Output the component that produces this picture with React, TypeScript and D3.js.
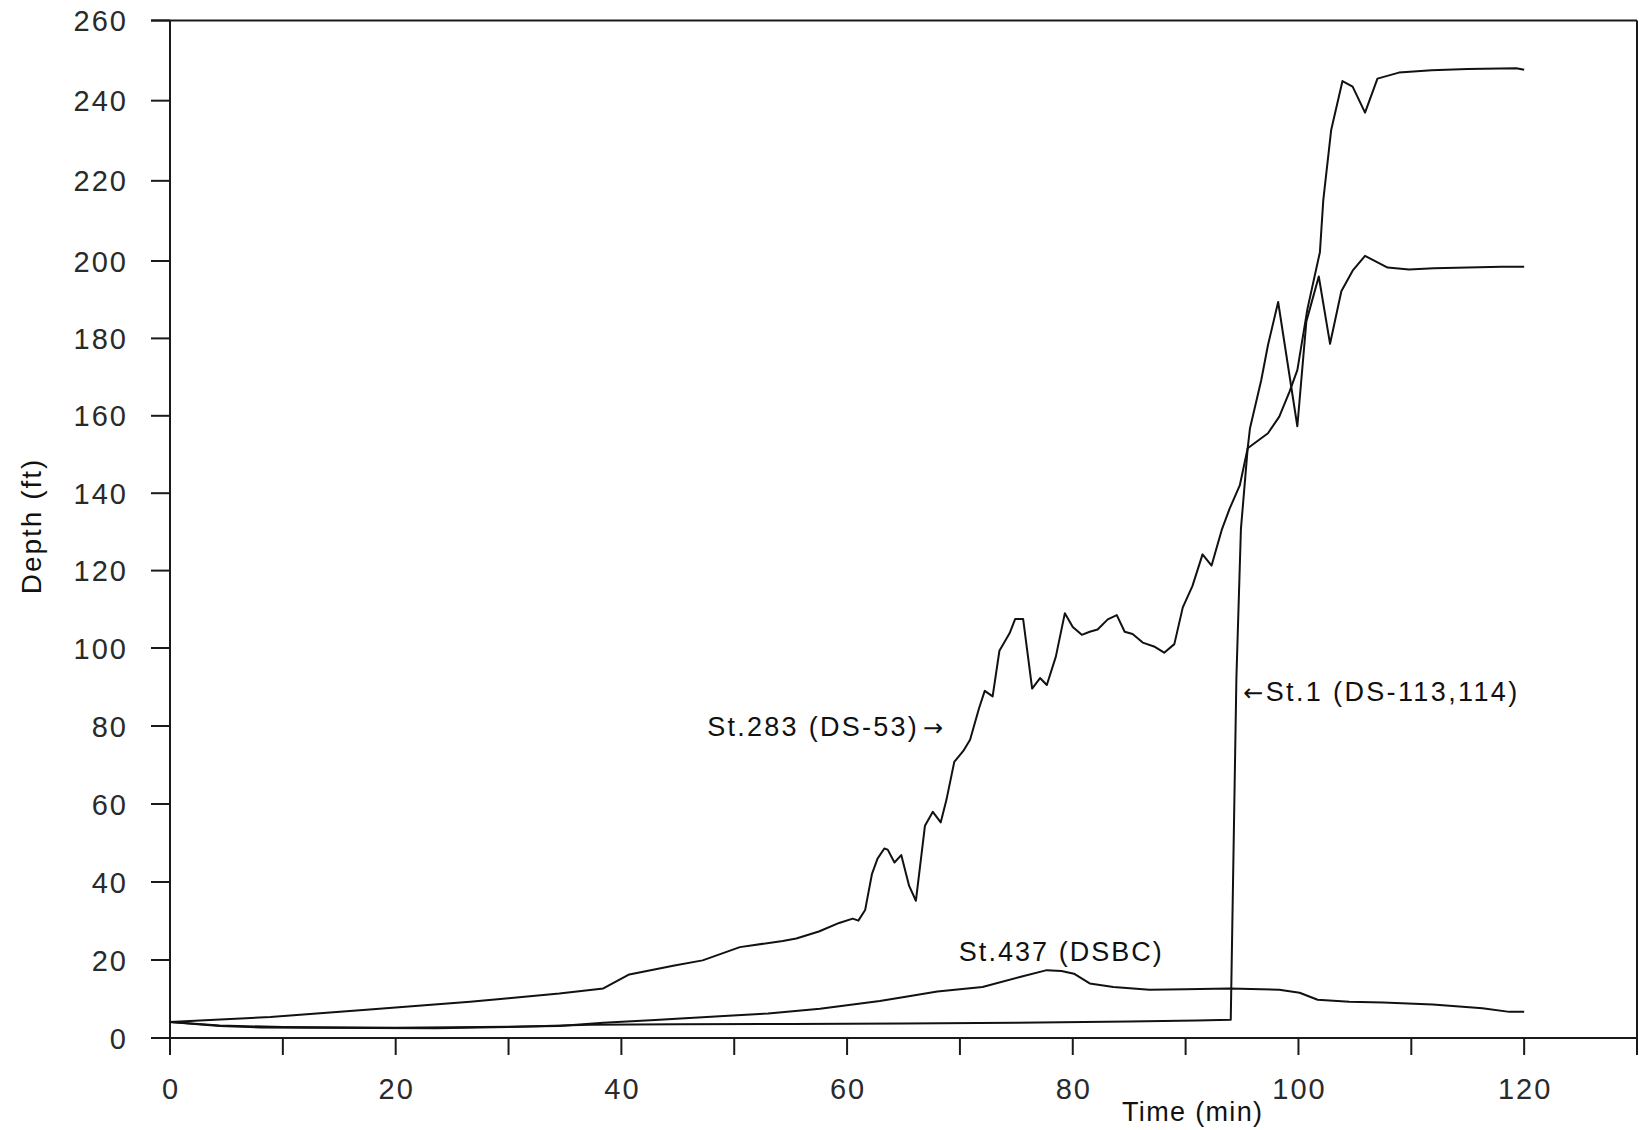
import React from "react";
import * as d3 from "d3";

// ---- data (time in min, depth in ft) ----
const st283: [number, number][] = [
  [0, 4.1], [4, 4.7], [8.9, 5.4], [13, 6.3], [17.7, 7.3], [22, 8.3], [26.6, 9.3], [30, 10.2],
  [34.5, 11.4], [38.4, 12.7], [40.7, 16.3], [44.7, 18.6], [47.2, 19.9], [50.5, 23.3], [54.3, 24.9],
  [55.5, 25.5], [57.5, 27.3], [59.3, 29.5], [60.5, 30.6], [61, 30.1], [61.6, 32.8], [62.2, 42],
  [62.7, 46], [63.3, 48.6], [63.6, 48.3], [64.2, 45], [64.8, 46.9], [65.5, 39], [66.1, 35.2],
  [66.9, 54.4], [67.6, 58], [68.3, 55.3], [68.8, 61], [69.5, 70.8], [70.3, 73.6], [70.9, 76.5],
  [71.7, 84.6], [72.2, 89], [72.9, 87.6], [73.5, 99.3], [74.4, 103.8], [74.9, 107.5], [75.6, 107.5],
  [76.4, 89.6], [77.1, 92.3], [77.7, 90.5], [78.5, 97.8], [79.3, 109], [80, 105.4], [80.8, 103.4],
  [81.5, 104.2], [82.2, 104.8], [83.1, 107.4], [83.9, 108.5], [84.6, 104.2], [85.3, 103.6],
  [86.2, 101.4], [87.2, 100.4], [88.1, 98.8], [89, 101], [89.75, 110.5], [90.6, 116], [91.5, 124.2],
  [92.3, 121.3], [93.2, 130.5], [93.9, 136], [94.8, 142], [95.5, 151.6], [95.7, 156.7], [96.7, 169.2],
  [97.3, 178.3], [98.2, 189.4], [99.9, 157.3], [100.7, 184.4], [101.1, 188.6], [101.8, 196],
  [102.8, 178.6], [103.8, 192.2], [104.8, 197.5], [105.9, 201.3], [107.9, 198.3], [109.8, 197.8],
  [112, 198.1], [115, 198.3], [118, 198.5], [120, 198.5],
];

const st1: [number, number][] = [
  [0, 4.1], [4.4, 3.1], [8, 2.7], [11.8, 2.6], [23.6, 2.5], [30, 2.8], [37.2, 3.4], [45, 3.5],
  [55, 3.6], [65, 3.7], [75, 3.9], [85, 4.2], [91, 4.5], [94, 4.7], [94.5, 92.3], [94.9, 130.7],
  [95.5, 151.6], [97.3, 155.5], [98.3, 159.8], [99.2, 166.2], [99.9, 171.8], [100.8, 187.7],
  [101.9, 202.2], [102.2, 215.2], [102.9, 232.7], [103.9, 244.9], [104.8, 243.5], [105.9, 237],
  [107, 245.5], [108.9, 247], [111.8, 247.6], [115, 247.9], [119.3, 248.1], [120, 247.7],
];

const st437: [number, number][] = [
  [0, 4.1], [4.4, 3.2], [10, 2.8], [20, 2.6], [30, 2.9], [34.5, 3.1], [38.4, 3.9], [43, 4.6],
  [48.7, 5.6], [53, 6.3], [57.6, 7.5], [62.9, 9.5], [65.2, 10.6], [68, 11.9], [72, 13.1],
  [75.4, 15.7], [77.7, 17.4], [79, 17.2], [80.1, 16.5], [81.5, 14], [83.6, 13.1], [86.8, 12.4],
  [90, 12.5], [93.9, 12.7], [98.3, 12.4], [100.1, 11.6], [101.7, 9.8], [104.5, 9.3], [107.5, 9.1],
  [111.9, 8.6], [116.3, 7.6], [118.7, 6.7], [120, 6.7],
];

const xTicks = d3.range(0, 131, 10);
const xTickLabels = [0, 20, 40, 60, 80, 100, 120];
const yTicks = d3.range(0, 261, 20);

const labels = [
  { pre: "", text: "St.283 (DS-53)", post: "\u2192", t: 47.6, d: 77.5, len: 236 },
  { pre: "\u2190", text: "St.1 (DS-113,114)", post: "", t: 95.1, d: 86.3, len: 274 },
  { pre: "", text: "St.437 (DSBC)", post: "", t: 69.9, d: 19.8, len: 203 },
];

export default function App() {
  const W = 1639;
  const H = 1130;
  const x = d3.scaleLinear().domain([0, 130]).range([170, 1637]);
  const y = d3.scaleLinear().domain([0, 100, 200, 260]).range([1038, 648, 261, 20.5]);
  const line = d3
    .line<[number, number]>()
    .x((p) => x(p[0]))
    .y((p) => y(p[1]));

  const font = "'Liberation Sans', Arial, Helvetica, sans-serif";
  const ink = "#1a1a1a";
  const arrowFont = "'DejaVu Sans', sans-serif";

  return (
    <svg
      width={W}
      height={H}
      style={{ position: "absolute", left: 0, top: 0, background: "#fff" }}
      fontFamily={font}
    >
      <rect x={0} y={0} width={W} height={H} fill="#fff" />
      {/* frame */}
      <g stroke={ink} strokeWidth={2} fill="none">
        <line x1={x(0)} y1={y(260)} x2={x(0)} y2={y(0) + 17} />
        <line x1={x(0) - 19} y1={y(260)} x2={x(130)} y2={y(260)} />
        <line x1={x(130)} y1={y(260)} x2={x(130)} y2={y(0) + 17} />
        <line x1={x(0) - 19} y1={y(0)} x2={x(130)} y2={y(0)} />
        {yTicks.map((v) => (
          <line key={"yt" + v} x1={x(0) - 19} y1={y(v)} x2={x(0)} y2={y(v)} />
        ))}
        {xTicks.map((v) => (
          <line key={"xt" + v} x1={x(v)} y1={y(0)} x2={x(v)} y2={y(0) + 17} />
        ))}
      </g>
      {/* tick labels */}
      <g fill="#2a2a2a" fontSize={29} letterSpacing={2}>
        {yTicks.map((v) => (
          <text key={"yl" + v} x={128} y={y(v) + 10.5} textAnchor="end">
            {v}
          </text>
        ))}
        {xTickLabels.map((v) => (
          <text key={"xl" + v} x={x(v) + 1} y={1099} textAnchor="middle">
            {v}
          </text>
        ))}
      </g>
      {/* axis titles */}
      <text x={1122} y={1121} fontSize={27} fill="#111" textLength={140} lengthAdjust="spacing">
        Time (min)
      </text>
      <text
        transform="translate(41,526) rotate(-90)"
        x={0}
        y={0}
        fontSize={28}
        fill="#111"
        textAnchor="middle"
        letterSpacing={2}
      >
        Depth (ft)
      </text>
      {/* series */}
      <g fill="none" stroke="#111" strokeWidth={2} strokeLinejoin="round">
        <path d={line(st437) || ""} />
        <path d={line(st1) || ""} />
        <path d={line(st283) || ""} />
      </g>
      {/* annotations */}
      <g fill="#111" fontSize={27}>
        {labels.map((l) => (
          <text key={l.text} x={x(l.t)} y={y(l.d)} textLength={l.len} lengthAdjust="spacing">
            {l.pre ? <tspan fontFamily={arrowFont} fontSize={24}>{l.pre}</tspan> : null}
            {l.text}
            {l.post ? <tspan fontFamily={arrowFont} fontSize={24} dx={4}>{l.post}</tspan> : null}
          </text>
        ))}
      </g>
    </svg>
  );
}
